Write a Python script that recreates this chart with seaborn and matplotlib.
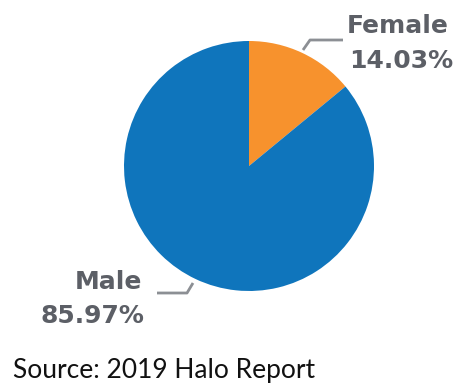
import matplotlib
matplotlib.use("Agg")
import matplotlib.pyplot as plt
import seaborn as sns

categories = ["Female", "Male"]
shares = [14.03, 85.97]
colors = ["#f7922d", "#0f75bc"]
source_text = "Source: 2019 Halo Report"

sns.set_theme(style="white")
plt.rcParams['font.family'] = ['DejaVu Sans']

W, H = 461, 383
fig = plt.figure(figsize=(W / 100, H / 100), dpi=100)
fig.patch.set_facecolor("white")
ax = fig.add_axes([0, 0, 1, 1])

ax.pie(shares, colors=colors, startangle=90, counterclock=False,
       center=(249, H - 166), radius=125,
       wedgeprops=dict(linewidth=0))
ax.set_xlim(0, W)
ax.set_ylim(0, H)
ax.set_aspect("equal")
ax.axis("off")

gray = "#5c5f66"
line_gray = "#8c8f94"

# Female label
ax.plot([303, 310, 343], [H - 50, H - 40, H - 40], color=line_gray, lw=2,
        solid_capstyle="butt")
ax.text(347, H - 33, categories[0], color=gray, fontsize=18,
        fontweight="bold", ha="left", va="baseline")
ax.text(349, H - 68, f"{shares[0]:.2f}%", color=gray, fontsize=18,
        fontweight="bold", ha="left", va="baseline")

# Male label
ax.plot([157, 187, 193], [H - 293, H - 293, H - 283], color=line_gray, lw=2,
        solid_capstyle="butt")
ax.text(142, H - 289, categories[1], color=gray, fontsize=18,
        fontweight="bold", ha="right", va="baseline")
ax.text(144, H - 323, f"{shares[1]:.2f}%", color=gray, fontsize=18,
        fontweight="bold", ha="right", va="baseline")

ax.text(13, H - 378, source_text, color="#111111", fontsize=19,
        family=["Lato", "DejaVu Sans"], ha="left", va="baseline")

fig.savefig("out.png", dpi=100, facecolor="white")
